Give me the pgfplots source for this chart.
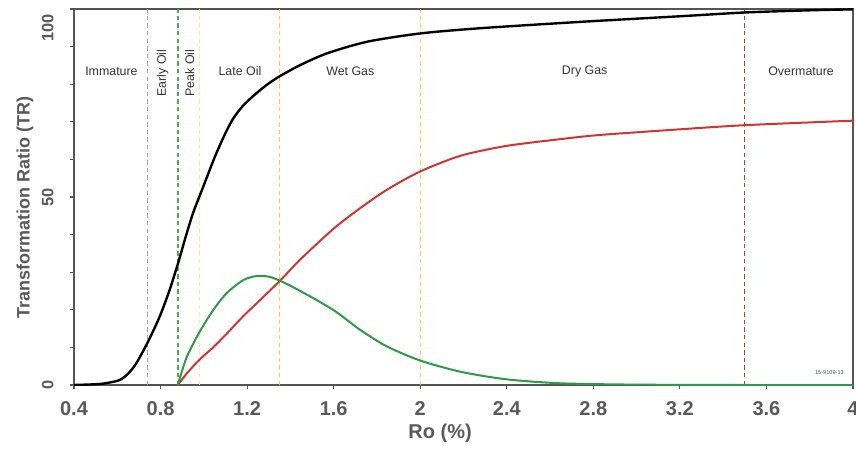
\documentclass[border=0pt]{standalone}
\usepackage{pgfplots}
\pgfplotsset{compat=1.18}
\usepackage{fontspec}
\setmainfont{Liberation Sans}
\definecolor{txtgray}{HTML}{595959}
\definecolor{axgray}{HTML}{555555}
\definecolor{cred}{HTML}{D0352F}
\definecolor{cgreen}{HTML}{2E9A48}
\definecolor{vlav}{HTML}{9A9AC4}
\definecolor{vgreen}{HTML}{3CB83C}
\definecolor{vpale}{HTML}{EEEE9A}
\definecolor{vyel}{HTML}{E8D840}
\definecolor{vdred}{HTML}{A0404C}
\begin{document}
\begin{tikzpicture}
\begin{axis}[
    scale only axis,
    width=389.5pt, height=188pt,
    xmin=0.4, xmax=4, ymin=0, ymax=100,
    xtick={0.4,0.8,...,4.0},
    xticklabels={0.4,0.8,1.2,1.6,2,2.4,2.8,3.2,3.6,4},
    ytick={0,50},
    minor ytick={10,20,30,40,60,70,80,90},
    extra y ticks={100},
    extra y tick style={yticklabel style={anchor=south east, xshift=1pt}},
    tick align=outside,
    major tick length=2.2pt, minor tick length=2.2pt,
    tick style={axgray, line width=0.6pt},
    axis line style={axgray, line width=0.7pt},
    xtick pos=bottom, ytick pos=left,
    /pgf/number format/assume math mode=true,
    ticklabel style={font=\bfseries\fontsize{10}{12}\selectfont, text=txtgray},
    yticklabel style={font=\bfseries\fontsize{8.2}{10}\selectfont, xshift=-4.5pt, rotate=90, anchor=south},
    xticklabel style={yshift=-2.5pt},
    xlabel={Ro (\%)},
    ylabel={Transformation Ratio (TR)},
    xlabel style={font=\bfseries\fontsize{10}{12}\selectfont, text=txtgray,
        at={(axis description cs:0.47,0)}, anchor=center, yshift=-24pt},
    ylabel style={font=\bfseries\fontsize{9}{11}\selectfont, text=txtgray,
        at={(axis description cs:-0.0629,0.473)}, anchor=center},
    clip=true,
]
% stage boundaries
\addplot[vlav, line width=0.6pt, dash pattern=on 2.2pt off 1.6pt] coordinates {(0.74,0) (0.74,100)};
\addplot[vgreen, line width=0.65pt, dash pattern=on 2.2pt off 1.6pt] coordinates {(0.88,0) (0.88,100)};
\addplot[vpale, line width=0.65pt, dash pattern=on 2.2pt off 1.6pt] coordinates {(0.98,0) (0.98,100)};
\addplot[vyel, line width=0.7pt, dash pattern=on 2.2pt off 1.6pt] coordinates {(1.35,0) (1.35,100)};
\addplot[vyel, line width=0.7pt, dash pattern=on 2.2pt off 1.6pt] coordinates {(2.0,0) (2.0,100)};
\addplot[vdred, line width=0.6pt, dash pattern=on 2.2pt off 1.6pt] coordinates {(3.5,0) (3.5,100)};

% total TR
\addplot[black, line width=1.2pt, smooth, tension=0.45] coordinates {
 (0.4,0) (0.5,0.2) (0.55,0.5) (0.61,1.3) (0.65,3) (0.688,5.8) (0.742,11.5)
 (0.796,18.2) (0.842,25.3) (0.881,32.4) (0.912,38.6) (0.95,45.7) (0.997,52.7)
 (1.051,60.7) (1.1,67.0) (1.136,70.9) (1.18,74.2) (1.229,76.9) (1.29,79.8)
 (1.353,82.2) (1.446,85.1) (1.569,88.2) (1.755,91.3) (2.0,93.5) (2.28,94.9)
 (2.747,96.6) (3.21,98.1) (3.51,99.1) (3.83,99.7) (4.0,99.9)};
% gas
\addplot[cred, line width=1pt, smooth, tension=0.45] coordinates {
 (0.88,0) (0.92,3.0) (0.981,6.8) (1.043,10.0) (1.105,13.6) (1.182,18.3)
 (1.26,22.6) (1.353,27.8) (1.446,33.4) (1.6,41.6) (1.724,47.1) (1.848,52.0)
 (2.0,56.8) (2.188,61.0) (2.4,63.6) (2.65,65.4) (2.83,66.5) (3.2,68.0)
 (3.5,69.1) (4.0,70.3)};
% oil
\addplot[cgreen, line width=1pt, smooth, tension=0.45] coordinates {
 (0.88,0) (0.92,7.3) (0.981,14.2) (1.043,19.9) (1.105,24.4) (1.182,27.9)
 (1.245,29.0) (1.3,28.8) (1.353,27.7) (1.446,25.0) (1.6,19.9) (1.724,14.6)
 (1.848,10.2) (2.0,6.5) (2.188,3.5) (2.4,1.5) (2.65,0.45) (3.0,0.1)
 (3.5,0) (4.0,0)};

% stage names
\begin{scope}[every node/.style={font=\fontsize{6.2}{7}\selectfont, text=black!80}]
\node at (axis cs:0.573,83.5) {Immature};
\node[rotate=90] at (axis cs:0.81,83) {Early Oil};
\node[rotate=90] at (axis cs:0.935,83) {Peak Oil};
\node at (axis cs:1.167,83.5) {Late Oil};
\node at (axis cs:1.677,83.5) {Wet Gas};
\node at (axis cs:2.76,83.5) {Dry Gas};
\node at (axis cs:3.76,83.5) {Overmature};
\end{scope}
\node[font=\fontsize{2.8}{3}\selectfont, text=black!70, anchor=south east] at (axis cs:3.99,0.8) {15-9109-13};
\end{axis}
\pgfresetboundingbox
\path[use as bounding box] ([shift={(-37pt,-35pt)}]current axis.south west) rectangle ([shift={(1.5pt,4.5pt)}]current axis.north east);
\end{tikzpicture}
\end{document}
